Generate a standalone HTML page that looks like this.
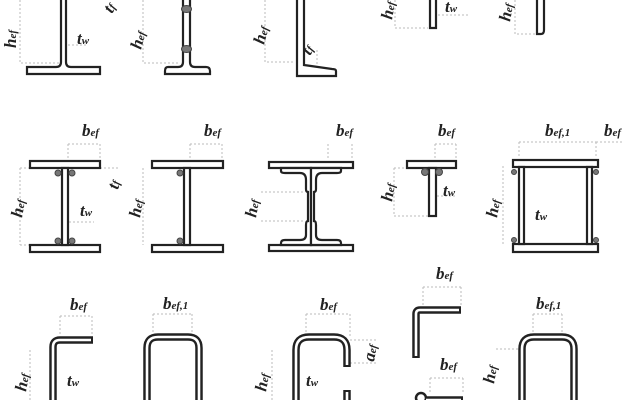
<!DOCTYPE html>
<html><head><meta charset="utf-8"><style>
html,body{margin:0;padding:0;background:#fff;}
svg{display:block}
.l{font-family:"Liberation Serif",serif;font-weight:bold;font-style:italic;font-size:17px;fill:#222}
.s{font-size:11px}
.d{stroke:#bbb;stroke-width:1;stroke-dasharray:2 2;fill:none}
.o{fill:#fff;stroke:#222;stroke-width:2.2}
.t1{fill:none;stroke:#222;stroke-width:7.5;stroke-linejoin:round}
.t2{fill:none;stroke:#fff;stroke-width:2.6;stroke-linejoin:round}
.b{fill:#777;stroke:#444;stroke-width:1}
</style></head><body>
<svg width="624" height="400" viewBox="0 0 624 400" xmlns="http://www.w3.org/2000/svg">
<path class="d" d="M20 0V63H60M68 45H88"/>
<path class="o" d="M61 -2V62Q61 67 56 67H27V74H100V67H71Q66 67 66 62V-2"/>
<text class="l" transform="translate(16,48) rotate(-90)">h<tspan class="s">ef</tspan></text>
<text class="l" x="77" y="44">t<tspan class="s">w</tspan></text>
<path class="d" d="M143 0V63H180"/>
<path class="o" d="M183 -2V62Q183 67 178 67H168Q165 67 165 71V74H210V71Q210 67 206 67H195Q190 67 190 62V-2"/>
<ellipse class="b" cx="186.5" cy="9" rx="5" ry="3.5"/>
<ellipse class="b" cx="186.5" cy="49" rx="5" ry="3.5"/>
<text class="l" transform="translate(112,14) rotate(-60)">t<tspan class="s">f</tspan></text>
<text class="l" transform="translate(141,50) rotate(-75)">h<tspan class="s">ef</tspan></text>
<path class="d" d="M265 0V62H294M317 50V70"/>
<path class="o" d="M297 -2V76H336V71Q336 69 332 69L304 65V-2Z"/>
<text class="l" transform="translate(264,45) rotate(-75)">h<tspan class="s">ef</tspan></text>
<text class="l" transform="translate(310,56) rotate(-60)">t<tspan class="s">f</tspan></text>
<path class="d" d="M395 0V28H428M438 15H470"/>
<path class="o" d="M430 -2V28H436V-2"/>
<text class="l" transform="translate(392,20) rotate(-80)">h<tspan class="s">ef</tspan></text>
<text class="l" x="445" y="12">t<tspan class="s">w</tspan></text>
<path class="d" d="M515 0V34H535"/>
<path class="o" d="M537 -2V34H541Q544 34 544 30V-2"/>
<text class="l" transform="translate(510,22) rotate(-80)">h<tspan class="s">ef</tspan></text>

<path class="d" d="M68 144H100M68 144V160M100 144V160M100 168H118M20 168V245M69 222H94M20 168H30M20 245H30"/>
<rect class="o" x="30" y="161" width="70" height="7"/>
<rect class="o" x="30" y="245" width="70" height="7"/>
<rect class="o" x="62" y="168" width="6" height="77"/>
<circle class="b" cx="58" cy="173" r="3"/><circle class="b" cx="72" cy="173" r="3"/>
<circle class="b" cx="58" cy="241" r="3"/><circle class="b" cx="72" cy="241" r="3"/>
<text class="l" x="82" y="136">b<tspan class="s">ef</tspan></text>
<text class="l" transform="translate(118,190) rotate(-75)">t<tspan class="s">f</tspan></text>
<text class="l" transform="translate(22,218) rotate(-80)">h<tspan class="s">ef</tspan></text>
<text class="l" x="80" y="216">t<tspan class="s">w</tspan></text>
<path class="d" d="M190 144H222M190 144V160M222 144V160M143 168V245"/>
<rect class="o" x="152" y="161" width="71" height="7"/>
<rect class="o" x="152" y="245" width="71" height="7"/>
<rect class="o" x="184" y="168" width="6" height="77"/>
<circle class="b" cx="180" cy="173" r="3"/><circle class="b" cx="180" cy="241" r="3"/>
<text class="l" x="204" y="136">b<tspan class="s">ef</tspan></text>
<text class="l" transform="translate(140,218) rotate(-80)">h<tspan class="s">ef</tspan></text>
<path class="d" d="M328 144V160M352 144V160M261 192H304M261 221H304"/>
<rect class="o" x="269" y="162" width="84" height="6"/>
<rect class="o" x="269" y="245" width="84" height="6"/>
<path class="o" d="M281 168V171Q281 173 285 173H300Q306 173 306 180V189Q306 192 308 192V221Q306 221 306 225V235Q306 240 300 240H285Q281 240 281 243V245H311V168Z"/>
<path class="o" d="M341 168V171Q341 173 337 173H322Q316 173 316 180V189Q316 192 314 192V221Q316 221 316 225V235Q316 240 322 240H337Q341 240 341 243V245H311V168Z"/>
<text class="l" x="336" y="136">b<tspan class="s">ef</tspan></text>
<text class="l" transform="translate(256,218) rotate(-80)">h<tspan class="s">ef</tspan></text>
<path class="d" d="M435 144H456M435 144V160M456 144V160M394 168V216H428M437 196H455M394 168H407"/>
<rect class="o" x="407" y="161" width="49" height="7"/>
<rect class="o" x="429" y="168" width="7" height="48"/>
<circle class="b" cx="425" cy="172" r="3.5"/><circle class="b" cx="439" cy="172" r="3.5"/>
<text class="l" x="438" y="136">b<tspan class="s">ef</tspan></text>
<text class="l" transform="translate(392,202) rotate(-80)">h<tspan class="s">ef</tspan></text>
<text class="l" x="443" y="196">t<tspan class="s">w</tspan></text>
<path class="d" d="M519 142H596M519 142V158M596 142V158M596 142H624M503 166V244"/>
<rect class="o" x="513" y="160" width="85" height="7"/>
<rect class="o" x="513" y="244" width="85" height="8"/>
<rect class="o" x="519" y="167" width="5" height="77"/>
<rect class="o" x="587" y="167" width="5" height="77"/>
<circle class="b" cx="514" cy="172" r="2.5"/><circle class="b" cx="596" cy="172" r="2.5"/>
<circle class="b" cx="514" cy="240" r="2.5"/><circle class="b" cx="596" cy="240" r="2.5"/>
<text class="l" x="545" y="136">b<tspan class="s">ef,1</tspan></text>
<text class="l" x="604" y="136">b<tspan class="s">ef</tspan></text>
<text class="l" transform="translate(497,218) rotate(-80)">h<tspan class="s">ef</tspan></text>
<text class="l" x="535" y="220">t<tspan class="s">w</tspan></text>

<path class="d" d="M60 316H92M60 316V334M92 316V334M30 350V400"/>
<path class="t1" d="M53 402V347Q53 340 60 340H93"/>
<path class="t2" d="M53 402V347Q53 340 60 340H91"/>
<text class="l" x="70" y="310">b<tspan class="s">ef</tspan></text>
<text class="l" transform="translate(26,392) rotate(-80)">h<tspan class="s">ef</tspan></text>
<text class="l" x="67" y="386">t<tspan class="s">w</tspan></text>
<path class="d" d="M153 314H192M153 314V332M192 314V332"/>
<path class="t1" d="M147 402V348Q147 337 158 337H188Q199 337 199 348V402"/>
<path class="t2" d="M147 402V348Q147 337 158 337H188Q199 337 199 348V402"/>
<text class="l" x="163" y="309">b<tspan class="s">ef,1</tspan></text>
<path class="d" d="M306 314H350M306 314V332M350 314V338M350 340H378M350 363H378M272 350V400"/>
<path class="t1" d="M296 402V350Q296 337 309 337H334Q347 337 347 350V367"/>
<path class="t2" d="M296 402V350Q296 337 309 337H334Q347 337 347 350V365"/>
<path class="t1" d="M347 390V402"/><path class="t2" d="M347 392V402"/>
<text class="l" x="320" y="310">b<tspan class="s">ef</tspan></text>
<text class="l" transform="translate(374,362) rotate(-80)">a<tspan class="s">ef</tspan></text>
<text class="l" transform="translate(266,392) rotate(-80)">h<tspan class="s">ef</tspan></text>
<text class="l" x="306" y="386">t<tspan class="s">w</tspan></text>
<path class="d" d="M423 287H461M423 287V305M461 287V305"/>
<path class="t1" d="M416 358V314Q416 310 420 310H461"/>
<path class="t2" d="M416 356V314Q416 310 420 310H459"/>
<text class="l" x="436" y="279">b<tspan class="s">ef</tspan></text>
<path class="d" d="M430 378H463M430 378V394M463 378V394"/>
<circle cx="421" cy="398" r="5" fill="#fff" stroke="#222" stroke-width="2.5"/>
<path class="t1" d="M426 400H463"/><path class="t2" d="M426 400H461"/>
<text class="l" x="440" y="370">b<tspan class="s">ef</tspan></text>
<path class="d" d="M533 314H562M533 314V332M562 314V332M496 349H518"/>
<path class="t1" d="M522 402V349Q522 337 534 337H562Q574 337 574 349V402"/>
<path class="t2" d="M522 402V349Q522 337 534 337H562Q574 337 574 349V402"/>
<text class="l" x="536" y="309">b<tspan class="s">ef,1</tspan></text>
<text class="l" transform="translate(494,384) rotate(-80)">h<tspan class="s">ef</tspan></text>
</svg>
</body></html>
